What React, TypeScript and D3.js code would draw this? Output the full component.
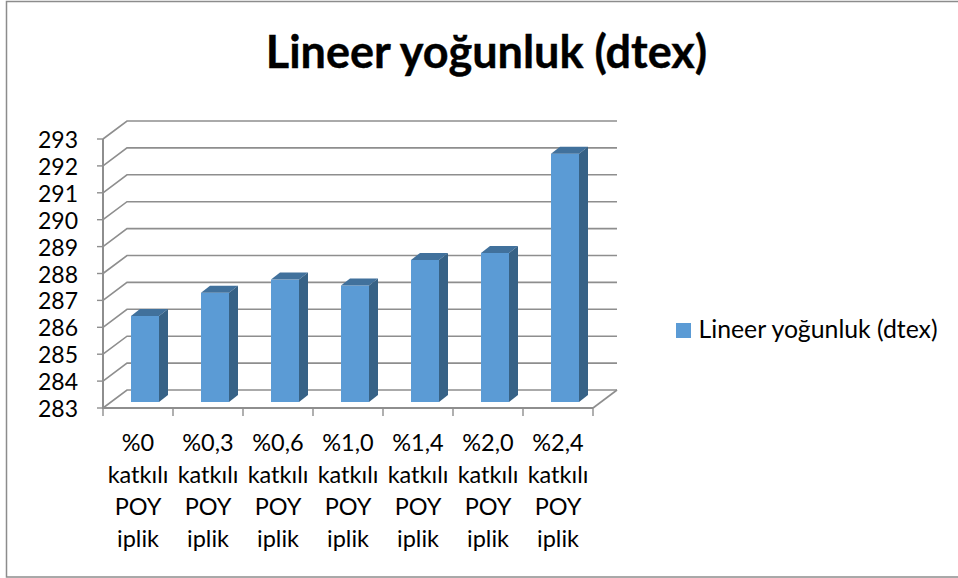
import React from "react";
import * as d3 from "d3";

const title = "Lineer yoğunluk (dtex)";
const categories = ["%0", "%0,3", "%0,6", "%1,0", "%1,4", "%2,0", "%2,4"];
const labelLines = ["katkılı", "POY", "iplik"];
const values = [286.2, 287.06, 287.55, 287.33, 288.28, 288.54, 292.23];
const yTicks = d3.range(283, 294);
const font = "Lato, 'Open Sans', sans-serif";

const x = d3.scaleBand<string>().domain(categories).range([103, 593]);
const y = d3.scaleLinear().domain([283, 293]).range([408, 139]);
const depthX = 24, depthY = 18;
const barW = 28, barDX = 9, barDY = 7, barShift = 7;

export default function App() {
  const right = x.range()[1];
  return (
    <svg width={958} height={578} style={{ position: "absolute", left: 0, top: 0, background: "#fff" }} fontFamily={font}>
      <rect x={6.5} y={1.5} width={960} height={575.5} fill="#fff" stroke="#8c8c8c" strokeWidth={1.5} />
      <text x={486.5} y={68} textAnchor="middle" fontSize={45} fontWeight={700} fill="#000" stroke="#000" strokeWidth={0.4}>{title}</text>
      {yTicks.map((t) => (
        <g key={t}>
          <polyline points={`${x.range()[0]},${y(t)} ${x.range()[0] + depthX},${y(t) - depthY} ${right + depthX},${y(t) - depthY}`}
            fill="none" stroke="#8e8e8e" strokeWidth={1.6} />
          <line x1={97} x2={103} y1={y(t)} y2={y(t)} stroke="#8e8e8e" strokeWidth={1.4} />
          <text x={78} y={y(t) + 9} textAnchor="end" fontSize={23} fill="#000">{t}</text>
        </g>
      ))}
      <line x1={103} x2={103} y1={y(293)} y2={y(283) + 1} stroke="#8e8e8e" strokeWidth={2} />
      <line x1={103} x2={right} y1={y(283)} y2={y(283)} stroke="#8e8e8e" strokeWidth={2} />
      <line x1={right} y1={y(283)} x2={right + depthX} y2={y(283) - depthY} stroke="#8e8e8e" strokeWidth={1.6} />
      {[...categories.map((c) => x(c)!), right].map((p, i) => (
        <line key={i} x1={p} x2={p} y1={y(283)} y2={y(283) + 8} stroke="#8e8e8e" strokeWidth={1.4} />
      ))}
      {categories.map((c, i) => {
        const x0 = x(c)! + (x.bandwidth() - barW) / 2 + barShift;
        const top = y(values[i]) - 6;
        const bottom = y(283) - 6;
        return (
          <g key={c}>
            <rect x={x0} y={top} width={barW} height={bottom - top} fill="#5b9bd5" />
            <path d={`M${x0},${top} l${barDX},${-barDY} h${barW} l${-barDX},${barDY} Z`} fill="#41719c" />
            <path d={`M${x0 + barW},${top} l${barDX},${-barDY} V${bottom - barDY} L${x0 + barW},${bottom} Z`} fill="#376286" />
          </g>
        );
      })}
      {categories.map((c) => (
        <text key={c} textAnchor="middle" fontSize={23.5} fill="#000">
          {[c, ...labelLines].map((l, j) => (
            <tspan key={j} x={x(c)! + x.bandwidth() / 2} y={451 + j * 32}>{l}</tspan>
          ))}
        </text>
      ))}
      <rect x={676} y={323} width={15} height={15} fill="#5b9bd5" />
      <text x={698.5} y={338} fontSize={24.8} fill="#000">{title}</text>
    </svg>
  );
}
